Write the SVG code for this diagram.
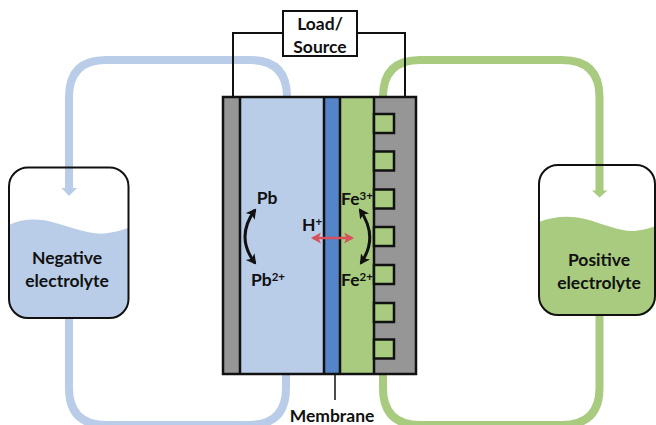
<svg xmlns="http://www.w3.org/2000/svg" width="656" height="425" viewBox="0 0 656 425">
<style>
text{font-family:"Lato","Liberation Sans",sans-serif;font-weight:700;font-size:17.500px;fill:#111;text-anchor:middle}
.sup{font-size:11.500px}
.pipe{fill:none;stroke-width:8}
.b{stroke:#b9cde8}.g{stroke:#a8cb80}
.k{stroke:#111;stroke-width:2.500;fill:none}
.w{stroke:#111;stroke-width:2;fill:none}
.tab{fill:#a8cb80;stroke:#111;stroke-width:2.500}
.ca{stroke:#111;stroke-width:3;fill:none;marker-start:url(#kh);marker-end:url(#kh)}
</style>
<defs>
<marker id="kh" markerUnits="userSpaceOnUse" markerWidth="12" markerHeight="12" refX="8" refY="5.500" orient="auto-start-reverse"><path d="M0 0L10 5.500L0 11L2.500 5.500Z" fill="#111"/></marker>
<marker id="rh" markerUnits="userSpaceOnUse" markerWidth="12" markerHeight="12" refX="8" refY="5.500" orient="auto-start-reverse"><path d="M0 0L10 5.500L0 11L2.500 5.500Z" fill="#d8505a"/></marker>
</defs>
<g id="connectors">
<path class="pipe b" d="M69 190V97Q69 60 106 60H250Q287 60 287 97"/>
<path d="M61.500 188H77L69 196Z" fill="#b9cde8"/>
<path class="pipe b" d="M69 318V388Q69 425 106 425H249Q286 425 286 388V374"/>
<path class="pipe g" d="M599.500 192V97Q599.500 60 562 60H420Q383 60 383 97"/>
<path d="M592 190.500H607.500L599.500 197.500Z" fill="#a8cb80"/>
<path class="pipe g" d="M383 374V388Q383 425 420 425H562Q599.500 425 599.500 388V315"/>
<path class="w" d="M283 33H233V97M357 33H405V97"/>
<path d="M335 374V400" stroke="#111" stroke-width="1.500" fill="none"/>
</g>
<g id="cell">
<rect x="223" y="97" width="193" height="277" fill="#969696"/>
<rect x="240" y="97" width="84" height="277" fill="#b9cde8"/>
<rect x="324" y="97" width="16" height="277" fill="#5585c8"/>
<rect x="340" y="97" width="34" height="277" fill="#a8cb80"/>
<path class="k" d="M240 97V374M324 97V374M340 97V374M374 97V374"/>
<rect class="k" x="223" y="97" width="193" height="277"/>
</g>
<g id="tabs">
<rect class="tab" x="374" y="114" width="20" height="19"/>
<rect class="tab" x="374" y="151.500" width="20" height="19"/>
<rect class="tab" x="374" y="189.500" width="20" height="19"/>
<rect class="tab" x="374" y="227" width="20" height="19"/>
<rect class="tab" x="374" y="265" width="20" height="19"/>
<rect class="tab" x="374" y="303" width="20" height="19"/>
<rect class="tab" x="374" y="339.500" width="20" height="19"/>
</g>
<g id="load">
<rect x="283" y="11" width="74" height="45" fill="#fff" stroke="#111" stroke-width="2"/>
<text x="320" y="30">Load/</text><text x="320" y="53">Source</text>
</g>
<g id="negative-tank">
<path d="M9 225C22 219 36 218 52 222C75 228 92 236 108 233C116 232 122 230 128 228V298Q128 318 108 318H29Q9 318 9 298Z" fill="#b9cde8"/>
<rect x="9" y="167.500" width="119.500" height="150.500" rx="19" fill="none" stroke="#111" stroke-width="2"/>
<text x="67" y="264">Negative</text><text x="67" y="287">electrolyte</text>
</g>
<g id="positive-tank">
<path d="M539 222C552 217 568 215 585 219C605 224 620 232 635 231C643 230 650 228 656 226V295Q656 315 636 315H559Q539 315 539 295Z" fill="#a8cb80"/>
<rect x="539" y="165" width="116" height="150" rx="19" fill="none" stroke="#111" stroke-width="2"/>
<text x="599" y="266">Positive</text><text x="599" y="289">electrolyte</text>
</g>
<g id="species">
<text x="267" y="204">Pb</text>
<text x="268" y="286">Pb<tspan class="sup" dy="-5">2+</tspan></text>
<text x="312" y="231">H<tspan class="sup" dy="-5">+</tspan></text>
<text x="357" y="205">Fe<tspan class="sup" dy="-5">3+</tspan></text>
<text x="357" y="286">Fe<tspan class="sup" dy="-5">2+</tspan></text>
<path class="ca" d="M255 210Q235 237 255 263"/>
<path class="ca" d="M360 210Q379 237 361 263"/>
<path d="M313 238H352" stroke="#d8505a" stroke-width="2.500" fill="none" marker-start="url(#rh)" marker-end="url(#rh)"/>
</g>
<text id="membrane" x="332" y="422">Membrane</text>
</svg>
